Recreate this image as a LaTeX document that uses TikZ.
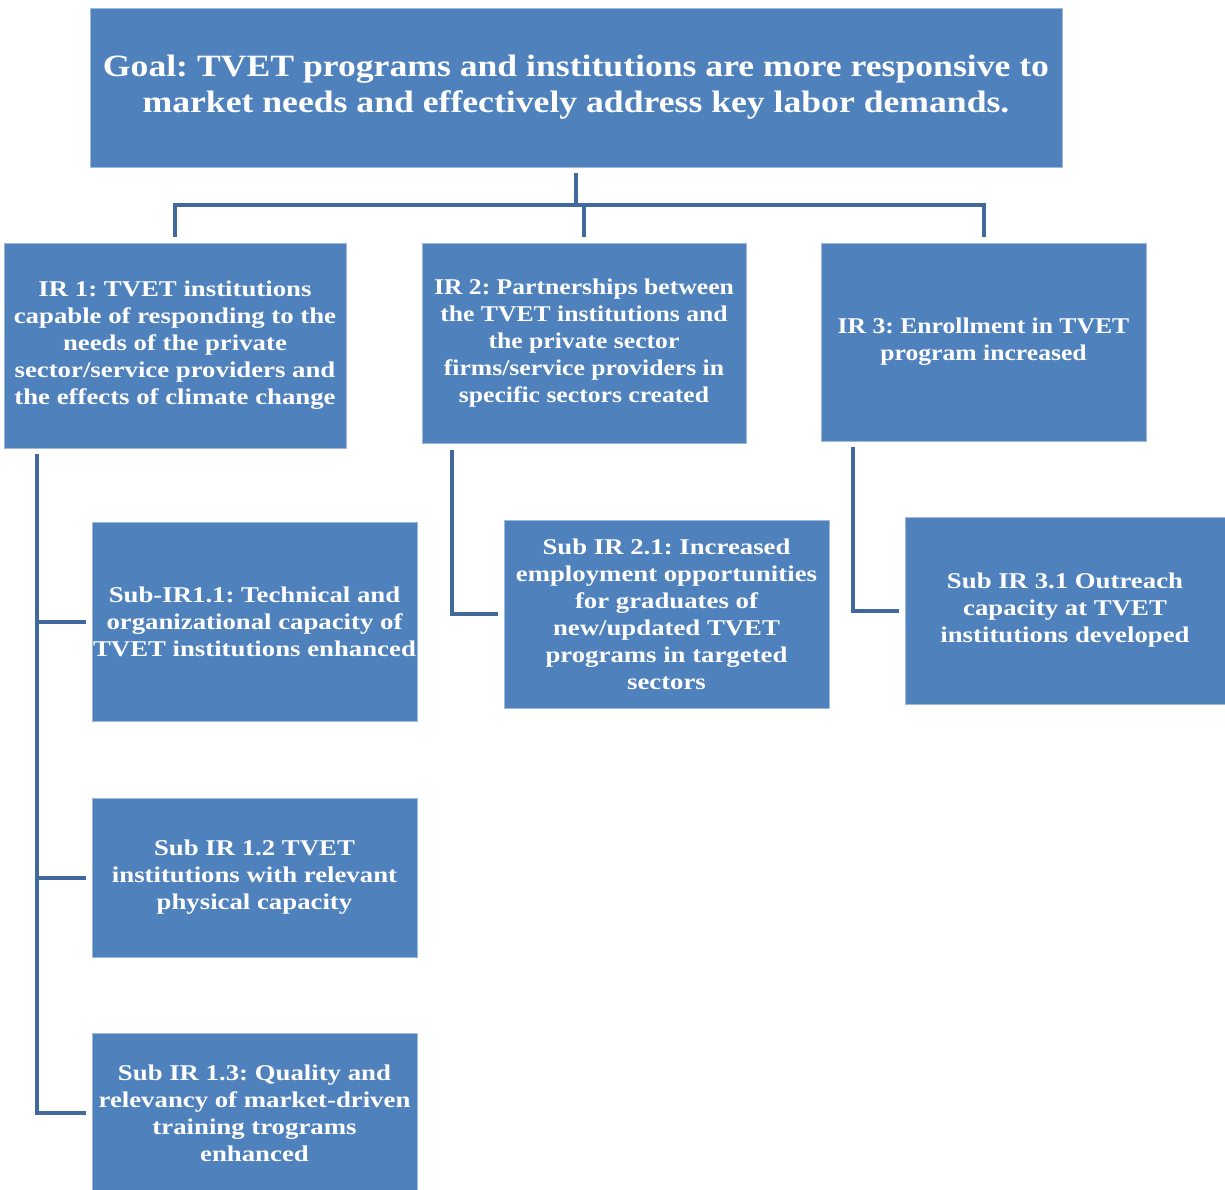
\documentclass[tikz,border=0pt]{standalone}
\usepackage{fontspec}
\setmainfont{Liberation Serif}
\newfontfamily\boxserif[FakeStretch=1.19]{Liberation Serif}
\newfontfamily\goalserif[FakeStretch=1.15]{Liberation Serif}
\newfontfamily\narrowserif[FakeStretch=1.14]{Liberation Serif}
\usepackage{tikz}
\usetikzlibrary{calc}
\frenchspacing

\definecolor{boxblue}{HTML}{4F81BD}
\definecolor{linkblue}{HTML}{41699C}

\tikzset{
  box/.style={fill=boxblue, draw=boxblue!55!white, line width=.8pt, text=white,
    align=center, inner sep=0pt, font=\boxserif\bfseries\fontsize{22.5}{27}\selectfont},
  goalbox/.style={box, font=\goalserif\bfseries\fontsize{31}{36}\selectfont},
  narrowbox/.style={box, font=\narrowserif\bfseries\fontsize{22.5}{27}\selectfont},
  link/.style={draw=linkblue, line width=4pt},
  gap/.style={shorten <=6pt, shorten >=6pt},
}

\begin{document}
\begin{tikzpicture}[x=1pt,y=1pt]
\useasboundingbox (0,0) rectangle (1225,-1190);
%% boxes
\node[goalbox, minimum width=972pt, minimum height=159pt] (goal) at (576,-87.5)
  {Goal: TVET programs and institutions are more responsive to\\ market needs and effectively address key labor demands.};
\node[box, minimum width=342pt, minimum height=205pt] (ir1) at (175,-345.5)
  {IR 1: TVET institutions\\ capable of responding to the\\ needs of the private\\ sector/service providers and\\ the effects of climate change};
\node[narrowbox, minimum width=324pt, minimum height=200pt] (ir2) at (584,-343)
  {IR 2: Partnerships between\\ the TVET institutions and\\ the private sector\\ firms/service providers in\\ specific sectors created};
\node[narrowbox, minimum width=325pt, minimum height=198pt] (ir3) at (983.5,-342)
  {IR 3: Enrollment in TVET\\ program increased};
%% sub results
\node[box, minimum width=325pt, minimum height=199pt] (sub11) at (254.5,-621.5)
  {Sub-IR1.1: Technical and\\ organizational capacity of\\ TVET institutions enhanced};
\node[box, minimum width=325pt, minimum height=159pt] (sub12) at (254.5,-877.5)
  {Sub IR 1.2 TVET\\ institutions with relevant\\ physical capacity};
\node[box, minimum width=325pt, minimum height=160pt] (sub13) at (254.5,-1113)
  {Sub IR 1.3: Quality and\\ relevancy of market-driven\\ training trograms\\ enhanced};
\node[box, minimum width=325pt, minimum height=188pt] (sub21) at (666.5,-614)
  {Sub IR 2.1: Increased\\ employment opportunities\\ for graduates of\\ new/updated TVET\\ programs in targeted\\ sectors};
\node[box, minimum width=320pt, minimum height=187pt] (sub31) at (1065,-610.5)
  {Sub IR 3.1 Outreach\\ capacity at TVET\\ institutions developed};
%% tree from goal
\draw[link, gap] (goal.south) -- ++(0,-38) -| (ir1.north);
\draw[link, gap] (goal.south) -- ++(0,-38) -| (ir2.north);
\draw[link, gap] (goal.south) -- ++(0,-38) -| (ir3.north);
%% IR 1 branch
\draw[link, shorten >=6pt] ([xshift=33pt,yshift=-6pt]ir1.south west) |- (sub11.west);
\draw[link, shorten >=6pt] ([xshift=33pt,yshift=-6pt]ir1.south west) |- (sub12.west);
\draw[link, shorten >=6pt] ([xshift=33pt,yshift=-6pt]ir1.south west) |- (sub13.west);
%% IR 2 and IR 3 branches
\draw[link, shorten >=6pt] ([xshift=30pt,yshift=-7pt]ir2.south west) |- (sub21.west);
\draw[link, shorten >=6pt] ([xshift=32pt,yshift=-6pt]ir3.south west) |- (sub31.west);
\end{tikzpicture}
\end{document}
